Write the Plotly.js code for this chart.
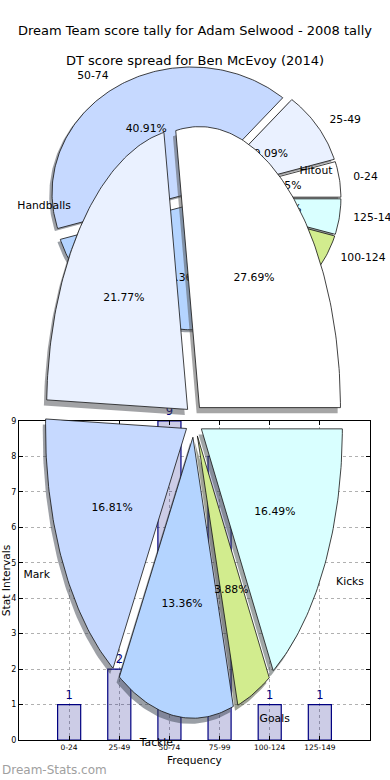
<!DOCTYPE html>
<html>
<head>
<meta charset="utf-8">
<script src="https://cdn.plot.ly/plotly-3.0.1.min.js"></script>
<style>html,body{margin:0;padding:0;background:#fff;}#chart{width:390px;height:780px;}</style>
</head>
<body>
<div id="chart"></div>
<script>
// ---- data ----
const scoreBins = ['0-24', '25-49', '50-74', '75-99', '100-124', '125-149'];
const scoreCounts = [1, 2, 9, 8, 1, 1];
const statNames = ['Hitout', 'Handballs', 'Mark', 'Tackle', 'Goals', 'Kicks'];
const statPct = [27.69, 21.77, 16.81, 13.36, 3.88, 16.49];

// ---- styles ----
const sliceColors = ['#ffffff', '#eaf1ff', '#c6d9ff', '#b4d4ff', '#d2ec8e', '#d9ffff'];
const FONT = 'DejaVu Sans, Verdana, sans-serif';

function hexToRgb(h) {
  return [parseInt(h.substr(1, 2), 16), parseInt(h.substr(3, 2), 16), parseInt(h.substr(5, 2), 16)];
}

// matplotlib-like pie on a non-equal-aspect axes (ellipse), with explode and shadow
function pieTraces(values, labels, geo, colors) {
  const total = values.reduce((a, b) => a + b, 0);
  let acc = 0;
  const shadows = [], wedges = [];
  const lx = [], ly = [], lt = [], lp = [], px = [], py = [], pt = [];
  values.forEach((v, i) => {
    const t1 = 360 * acc / total; acc += v; const t2 = 360 * acc / total;
    const tm = (t1 + t2) / 2 * Math.PI / 180;
    const ax = geo.cx + geo.e * geo.rx * Math.cos(tm);
    const ay = geo.cy - geo.e * geo.ry * Math.sin(tm);
    const xs = [ax], ys = [ay];
    const n = Math.max(3, Math.ceil(t2 - t1));
    for (let k = 0; k <= n; k++) {
      const t = (t1 + (t2 - t1) * k / n) * Math.PI / 180;
      xs.push(ax + geo.rx * Math.cos(t));
      ys.push(ay - geo.ry * Math.sin(t));
    }
    xs.push(ax); ys.push(ay);
    const rgb = hexToRgb(colors[i % colors.length]);
    const sc = 'rgba(' + rgb.map(c => Math.round(c * 0.3)).join(',') + ',0.5)';
    shadows.push({
      type: 'scatter', mode: 'lines', xaxis: 'x2', yaxis: 'y2', hoverinfo: 'skip',
      x: xs.map(x => x - 0.02 * geo.rx), y: ys.map(y => y + 0.02 * geo.ry),
      fill: 'toself', fillcolor: sc, line: {width: 0, color: sc}
    });
    wedges.push({
      type: 'scatter', mode: 'lines', xaxis: 'x2', yaxis: 'y2', hoverinfo: 'skip',
      x: xs, y: ys, fill: 'toself', fillcolor: colors[i % colors.length],
      line: {width: 0.8, color: '#111'}
    });
    const c = Math.cos(tm), s = Math.sin(tm);
    lx.push(ax + 1.1 * geo.rx * c); ly.push(ay - 1.1 * geo.ry * s);
    lt.push(labels[i]); lp.push(c > 0 ? 'middle right' : 'middle left');
    px.push(ax + 0.6 * geo.rx * c); py.push(ay - 0.6 * geo.ry * s);
    pt.push((100 * v / total).toFixed(2) + '%');
  });
  const texts = {
    type: 'scatter', mode: 'text', xaxis: 'x2', yaxis: 'y2', hoverinfo: 'skip', cliponaxis: false,
    x: lx.concat(px), y: ly.concat(py), text: lt.concat(pt),
    textposition: lp.concat(pt.map(() => 'middle center')),
    textfont: {family: FONT, size: 10.8, color: '#000'}
  };
  return shadows.concat(wedges, [texts]);
}

const barTrace = {
  type: 'bar', x: scoreBins, y: scoreCounts, xaxis: 'x', yaxis: 'y', width: 0.46,
  marker: {color: 'rgba(0,0,128,0.2)', line: {color: '#000080', width: 1.2}},
  text: scoreCounts.map(String), textposition: 'outside', cliponaxis: false,
  textfont: {family: FONT, size: 11.5, color: '#000080'}, hoverinfo: 'skip'
};

const pie1 = pieTraces(scoreCounts, scoreBins, {cx: 195, cy: 198, rx: 139.4, ry: 126, e: 0.047}, sliceColors);
const pie2 = pieTraces(statPct, statNames, {cx: 194, cy: 420.5, rx: 141, ry: 281, e: 0.06}, sliceColors);

const data = [barTrace].concat(pie1, pie2);

const layout = {
  width: 390, height: 780, margin: {l: 0, r: 0, t: 0, b: 0},
  paper_bgcolor: '#fff', plot_bgcolor: 'rgba(0,0,0,0)', showlegend: false,
  font: {family: FONT, color: '#000'},
  title: {
    text: 'Dream Team score tally for Adam Selwood - 2008 tally',
    x: 0.5, xanchor: 'center', y: 1 - 30 / 780, yanchor: 'middle',
    font: {family: FONT, size: 13, color: '#000'}
  },
  xaxis: {
    domain: [19 / 390, 370 / 390], anchor: 'y', type: 'category', range: [-1, 6],
    showline: true, linecolor: '#000', linewidth: 1, mirror: 'ticks',
    ticks: 'inside', ticklen: 4, tickcolor: '#000',
    showgrid: true, gridcolor: '#b0b0b0', griddash: 'dot', gridwidth: 1,
    tickfont: {family: FONT, size: 7.5, color: '#000'},
    fixedrange: true
  },
  yaxis: {
    domain: [1 - 740 / 780, 1 - 421 / 780], anchor: 'x', range: [0, 9], dtick: 1,
    showline: true, linecolor: '#000', linewidth: 1, mirror: 'ticks',
    ticks: 'inside', ticklen: 4, tickcolor: '#000', zeroline: false,
    showgrid: true, gridcolor: '#b0b0b0', griddash: 'dot', gridwidth: 1,
    tickfont: {family: FONT, size: 8, color: '#000'},
    title: {text: 'Stat Intervals', font: {family: FONT, size: 10.7, color: '#000'}, standoff: 2},
    fixedrange: true
  },
  xaxis2: {domain: [0, 1], anchor: 'y2', range: [0, 390], visible: false, fixedrange: true},
  yaxis2: {domain: [0, 1], anchor: 'x2', range: [780, 0], visible: false, fixedrange: true},
  annotations: [
    {text: 'DT score spread for Ben McEvoy (2014)', xref: 'paper', yref: 'paper',
     x: 195 / 390, y: 1 - 61 / 780, xanchor: 'center', yanchor: 'middle', showarrow: false,
     font: {family: FONT, size: 13, color: '#000'}},
    {text: 'Frequency', xref: 'paper', yref: 'paper',
     x: 194.5 / 390, y: 1 - 760 / 780, xanchor: 'center', yanchor: 'middle', showarrow: false,
     font: {family: FONT, size: 10.6, color: '#000'}},
    {text: 'Dream-Stats.com', xref: 'paper', yref: 'paper',
     x: 0, y: 1 - 770 / 780, xanchor: 'left', yanchor: 'middle', showarrow: false,
     font: {family: FONT, size: 12, color: '#a0a0a0'}}
  ]
};

Plotly.newPlot('chart', data, layout, {staticPlot: true, displayModeBar: false});
</script>
</body>
</html>
